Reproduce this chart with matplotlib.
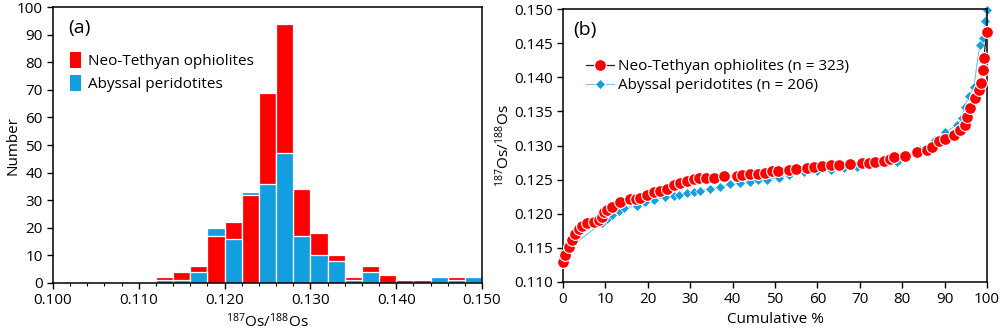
import numpy as np
import matplotlib
matplotlib.use("Agg")
import matplotlib.pyplot as plt
from matplotlib.patches import Patch
from matplotlib.lines import Line2D

plt.rcParams["font.family"] = ["Open Sans", "DejaVu Sans"]
plt.rcParams["mathtext.default"] = "regular"

# (a) histogram, bins of 0.002 from 0.100 to 0.150
bin_edges = np.round(np.arange(0.100, 0.1501, 0.002), 3)
neo_counts = [0, 0, 0, 0, 0, 0, 2, 4, 6, 17, 22, 32, 69, 94, 34, 18, 10, 2, 6, 3, 1, 1, 0, 2, 0]
aby_counts = [0, 0, 0, 0, 0, 0, 1, 1, 4, 20, 16, 33, 36, 47, 17, 10, 8, 1, 4, 0, 0, 0, 2, 1, 2]

# (b) cumulative curves
neo_pct = [0, 0.5, 1.3, 2.1, 2.9, 3.7, 4.5, 5.7, 7.2, 8.4, 9.2, 9.6, 10.4, 11.6, 13.4,
           15.9, 17.1, 18.2, 19.8, 21.4, 22.8, 24.5, 26.1, 27.7, 29.2, 30.8, 32.0, 33.8,
           35.5, 37.9, 41.0, 42.2, 44.2, 46.1, 47.7, 49.3, 50.6, 53.2, 55.0, 57.5, 59.1,
           61.1, 63.1, 65.2, 67.8, 70.5, 72.1, 73.7, 75.6, 77.2, 78.1, 80.7, 83.5, 85.8,
           87.0, 88.6, 90.2, 92.1, 93.7, 94.9, 95.4, 96.1, 97.2, 98.0, 98.6, 99.1, 99.2, 100]
neo_ratio = [0.1129, 0.1139, 0.1151, 0.1161, 0.1171, 0.1177, 0.1182, 0.1186, 0.1188, 0.1191,
             0.1195, 0.1203, 0.1205, 0.1210, 0.1217, 0.1222, 0.1222, 0.1223, 0.1227, 0.1232,
             0.1234, 0.1237, 0.1242, 0.1245, 0.1248, 0.1251, 0.1253, 0.1253, 0.1253, 0.1255,
             0.1256, 0.1257, 0.1258, 0.1259, 0.1260, 0.1262, 0.1263, 0.1264, 0.1265, 0.1267,
             0.1269, 0.1270, 0.1271, 0.1271, 0.1273, 0.1275, 0.1275, 0.1276, 0.1278, 0.1281,
             0.1283, 0.1285, 0.1291, 0.1293, 0.1298, 0.1306, 0.1310, 0.1315, 0.1323, 0.1330,
             0.1342, 0.1355, 0.1369, 0.1381, 0.1391, 0.1411, 0.1428, 0.1467]

aby_pct = [0.3, 1.3, 9.2, 10.4, 11.6, 13.1, 14.3, 17.5, 19.4, 21.4, 24.1, 26.1, 27.3, 29.2,
           30.8, 32.4, 34.7, 37.1, 39.5, 41.8, 44.2, 46.1, 48.1, 50.9, 53.2, 56.8, 59.9,
           63.1, 66.2, 69.3, 72.5, 75.6, 78.8, 81.1, 84.3, 87.8, 90.2, 92.9, 94.1, 94.7,
           95.7, 96.9, 98.3, 99.0, 99.5, 100]
aby_ratio = [0.1145, 0.1149, 0.1187, 0.1193, 0.1198, 0.1204, 0.1208, 0.1212, 0.1217, 0.1220,
             0.1224, 0.1226, 0.1228, 0.1230, 0.1232, 0.1234, 0.1237, 0.1239, 0.1243, 0.1245,
             0.1247, 0.1249, 0.1250, 0.1253, 0.1257, 0.1261, 0.1262, 0.1264, 0.1267, 0.1269,
             0.1271, 0.1274, 0.1276, 0.1284, 0.1293, 0.1308, 0.1320, 0.1330, 0.1340, 0.1357,
             0.1372, 0.1386, 0.1448, 0.1457, 0.1482, 0.1498]

RED = "#ff0000"
BLUE = "#139ee0"

fig = plt.figure(figsize=(10, 3.34), dpi=100)
ax1 = fig.add_axes([0.053, 0.1527, 0.429, 0.8263])
ax2 = fig.add_axes([0.563, 0.1557, 0.424, 0.817])

# --- panel (a)
lefts = bin_edges[:-1]
width = 0.002
bars_r = ax1.bar(lefts, neo_counts, width=width, align="edge", color=RED,
                 edgecolor="white", linewidth=0.9)
bars_b = ax1.bar(lefts, aby_counts, width=width, align="edge", color=BLUE,
                 edgecolor="white", linewidth=0.9)
# shorter bar of each bin sits in front
for pr, pb, r, b in zip(bars_r, bars_b, neo_counts, aby_counts):
    if r >= b:
        pr.set_zorder(2)
        pb.set_zorder(3)
    else:
        pr.set_zorder(3)
        pb.set_zorder(2)

ax1.set_xlim(0.100, 0.150)
ax1.set_ylim(0, 100)
ax1.set_xticks(np.arange(0.100, 0.1501, 0.010))
ax1.set_xticklabels([f"{v:.3f}" for v in np.arange(0.100, 0.1501, 0.010)])
ax1.set_xticks(bin_edges, minor=True)
ax1.set_yticks(np.arange(0, 101, 10))
ax1.tick_params(axis="both", which="major", labelsize=11, direction="out", length=4, width=1)
ax1.tick_params(axis="x", which="minor", direction="out", length=2.5, width=0.8)
ax1.set_xlabel(r"$^{187}$Os/$^{188}$Os", fontsize=11, labelpad=3)
ax1.set_ylabel("Number", fontsize=11)
ax1.yaxis.set_label_coords(-0.076, 0.5)
for s in ax1.spines.values():
    s.set_linewidth(1.1)
    s.set_zorder(5)
ax1.text(0.035, 0.955, "(a)", transform=ax1.transAxes, fontsize=14, va="top", ha="left")
handles = [Patch(facecolor=RED, edgecolor="none", label="Neo-Tethyan ophiolites"),
           Patch(facecolor=BLUE, edgecolor="none", label="Abyssal peridotites")]
ax1.legend(handles=handles, loc="upper left", bbox_to_anchor=(0.025, 0.86), frameon=False,
           fontsize=11, handlelength=0.7, handleheight=1.3, handletextpad=0.5,
           labelspacing=0.35, borderaxespad=0)

# --- panel (b)
ax2.plot(aby_pct, aby_ratio, color="#7cc0ea", linewidth=0.8, marker="D", markersize=5,
         markerfacecolor=BLUE, markeredgecolor="white", markeredgewidth=0.5, zorder=2,
         clip_on=False)
ax2.plot(neo_pct, neo_ratio, color="#222222", linewidth=0.9, marker="o", markersize=8.5,
         markerfacecolor=RED, markeredgecolor="white", markeredgewidth=0.8, zorder=3,
         clip_on=False)
ax2.set_xlim(0, 100)
ax2.set_ylim(0.110, 0.150)
ax2.set_xticks(np.arange(0, 101, 10))
ax2.set_yticks(np.arange(0.110, 0.1501, 0.005))
ax2.set_yticklabels([f"{v:.3f}" for v in np.arange(0.110, 0.1501, 0.005)])
ax2.tick_params(axis="both", which="major", labelsize=11, direction="out", length=4, width=1)
ax2.set_xlabel("Cumulative %", fontsize=11, labelpad=3)
ax2.set_ylabel(r"$^{187}$Os/$^{188}$Os", fontsize=11)
ax2.yaxis.set_label_coords(-0.117, 0.5)
for s in ax2.spines.values():
    s.set_linewidth(1.1)
ax2.text(0.025, 0.955, "(b)", transform=ax2.transAxes, fontsize=14, va="top", ha="left")
leg_handles = [
    Line2D([], [], color="#222222", linewidth=0.9, marker="o", markersize=8.5,
           markerfacecolor=RED, markeredgecolor="white", markeredgewidth=0.8,
           label="Neo-Tethyan ophiolites (n = 323)"),
    Line2D([], [], color="#7cc0ea", linewidth=0.8, marker="D", markersize=5,
           markerfacecolor=BLUE, markeredgecolor="white", markeredgewidth=0.5,
           label="Abyssal peridotites (n = 206)"),
]
ax2.legend(handles=leg_handles, loc="upper left", bbox_to_anchor=(0.04, 0.84), frameon=False,
           fontsize=11, handlelength=1.8, handletextpad=0.3, labelspacing=0.3,
           borderaxespad=0)

fig.savefig("out.png", dpi=100)
